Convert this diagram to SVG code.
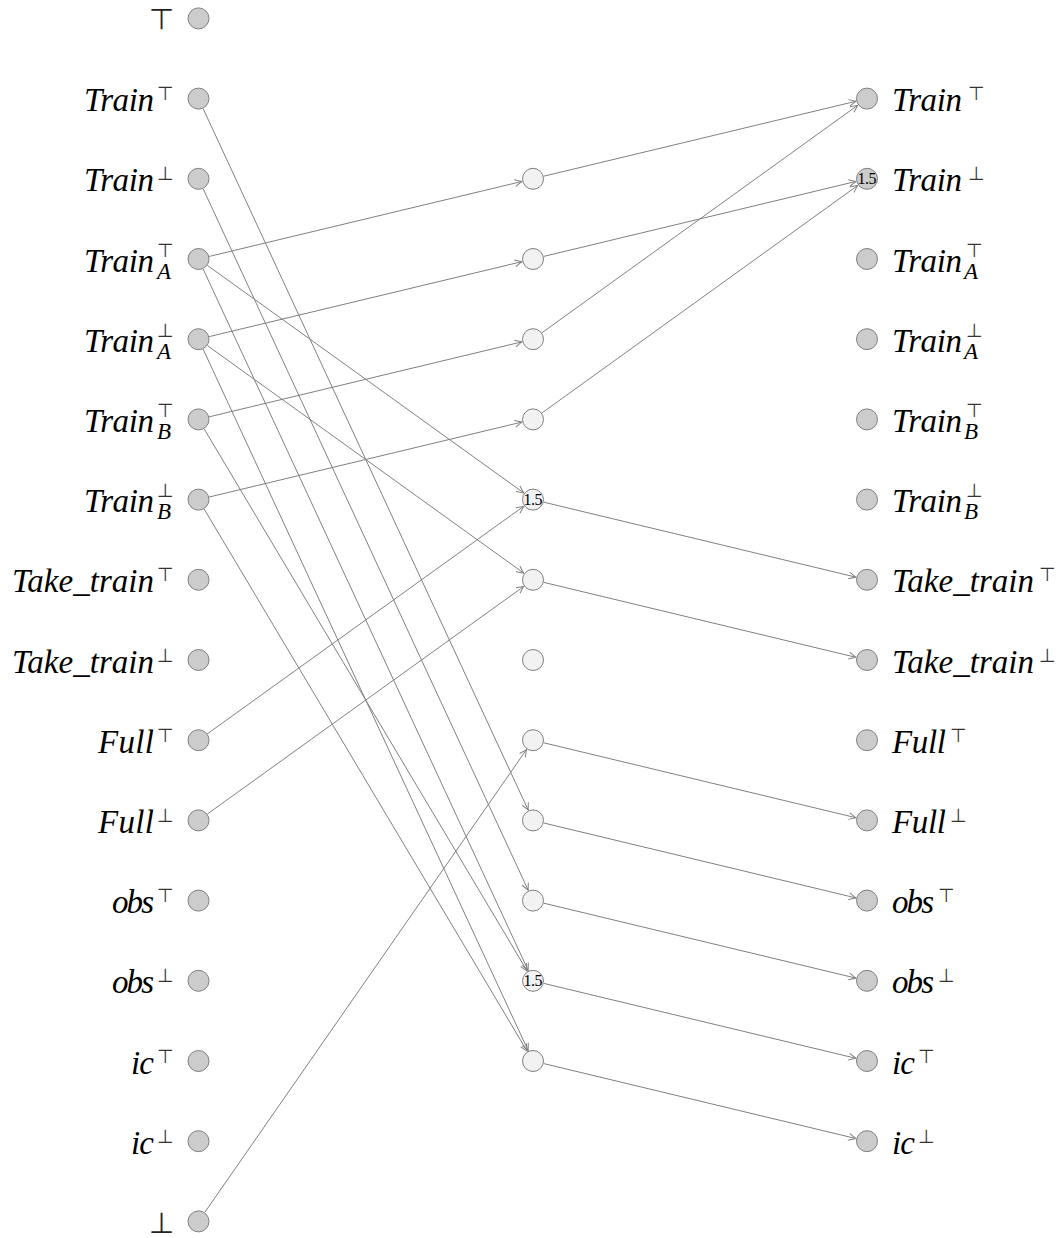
<svg xmlns="http://www.w3.org/2000/svg" width="1058" height="1238" viewBox="0 0 1058 1238">
<style>
.n{fill:#cccccc;stroke:#808080;stroke-width:1}
.m{fill:#f2f2f2;stroke:#808080;stroke-width:1}
.b{font-family:"Liberation Serif","DejaVu Serif",serif;font-style:italic;font-size:33px;fill:#000}
.bl{text-anchor:end}
.s{font-family:"DejaVu Sans",sans-serif;font-size:19px;fill:#333}
.u{font-family:"Liberation Serif","DejaVu Serif",serif;font-style:italic;font-size:23px;fill:#000}
.big{font-family:"DejaVu Sans",sans-serif;font-size:29px;fill:#222;text-anchor:end}
.t{font-family:"Liberation Serif","DejaVu Serif",serif;font-size:16px;fill:#000;text-anchor:middle}
#edges line{stroke:#808080;stroke-width:1;fill:none;marker-end:url(#arr)}
</style>
<defs>
<marker id="arr" markerUnits="userSpaceOnUse" markerWidth="12" markerHeight="12" viewBox="0 0 12 12" refX="10" refY="6" orient="auto">
<path d="M3,2.6 L10,6 L3,9.4" fill="none" stroke="#808080" stroke-width="1"/>
</marker>
</defs>
<rect width="1058" height="1238" fill="#ffffff"/>

<g id="left">
<g id="L0"><circle class="n" cx="198.5" cy="18.4" r="10.5"/><text class="big" x="174" y="29">⊤</text></g>
<g id="L1"><circle class="n" cx="198.5" cy="98.6" r="10.5"/><text class="b bl" x="154" y="111.1" textLength="70">Train</text><text class="s" x="157" y="100.1">⊤</text></g>
<g id="L2"><circle class="n" cx="198.5" cy="178.8" r="10.5"/><text class="b bl" x="154" y="191.3" textLength="70">Train</text><text class="s" x="157" y="180.3">⊥</text></g>
<g id="L3"><circle class="n" cx="198.5" cy="259.0" r="10.5"/><text class="b bl" x="154" y="271.5" textLength="70">Train</text><text class="s" x="157" y="256.5">⊤</text><text class="u" x="157" y="278.5">A</text></g>
<g id="L4"><circle class="n" cx="198.5" cy="339.2" r="10.5"/><text class="b bl" x="154" y="351.7" textLength="70">Train</text><text class="s" x="157" y="336.7">⊥</text><text class="u" x="157" y="358.7">A</text></g>
<g id="L5"><circle class="n" cx="198.5" cy="419.4" r="10.5"/><text class="b bl" x="154" y="431.9" textLength="70">Train</text><text class="s" x="157" y="416.9">⊤</text><text class="u" x="157" y="438.9">B</text></g>
<g id="L6"><circle class="n" cx="198.5" cy="499.6" r="10.5"/><text class="b bl" x="154" y="512.1" textLength="70">Train</text><text class="s" x="157" y="497.1">⊥</text><text class="u" x="157" y="519.1">B</text></g>
<g id="L7"><circle class="n" cx="198.5" cy="579.8" r="10.5"/><text class="b bl" x="154" y="592.3" textLength="142">Take_train</text><text class="s" x="157" y="581.3">⊤</text></g>
<g id="L8"><circle class="n" cx="198.5" cy="660.0" r="10.5"/><text class="b bl" x="154" y="672.5" textLength="142">Take_train</text><text class="s" x="157" y="661.5">⊥</text></g>
<g id="L9"><circle class="n" cx="198.5" cy="740.2" r="10.5"/><text class="b bl" x="154" y="752.7" textLength="56">Full</text><text class="s" x="157" y="741.7">⊤</text></g>
<g id="L10"><circle class="n" cx="198.5" cy="820.4" r="10.5"/><text class="b bl" x="154" y="832.9" textLength="56">Full</text><text class="s" x="157" y="821.9">⊥</text></g>
<g id="L11"><circle class="n" cx="198.5" cy="900.6" r="10.5"/><text class="b bl" x="154" y="913.1" textLength="42">obs</text><text class="s" x="157" y="902.1">⊤</text></g>
<g id="L12"><circle class="n" cx="198.5" cy="980.8" r="10.5"/><text class="b bl" x="154" y="993.3" textLength="42">obs</text><text class="s" x="157" y="982.3">⊥</text></g>
<g id="L13"><circle class="n" cx="198.5" cy="1061.0" r="10.5"/><text class="b bl" x="154" y="1073.5" textLength="23">ic</text><text class="s" x="157" y="1062.5">⊤</text></g>
<g id="L14"><circle class="n" cx="198.5" cy="1141.2" r="10.5"/><text class="b bl" x="154" y="1153.7" textLength="23">ic</text><text class="s" x="157" y="1142.7">⊥</text></g>
<g id="L15"><circle class="n" cx="198.5" cy="1221.4" r="10.5"/><text class="big" x="174" y="1233">⊥</text></g>
</g>

<g id="middle">
<g id="M0"><circle class="m" cx="533" cy="178.8" r="10.5"/></g>
<g id="M1"><circle class="m" cx="533" cy="259.0" r="10.5"/></g>
<g id="M2"><circle class="m" cx="533" cy="339.2" r="10.5"/></g>
<g id="M3"><circle class="m" cx="533" cy="419.4" r="10.5"/></g>
<g id="M4"><circle class="m" cx="533" cy="499.6" r="10.5"/><text class="t" x="533" y="505.2" textLength="19">1.5</text></g>
<g id="M5"><circle class="m" cx="533" cy="579.8" r="10.5"/></g>
<g id="M6"><circle class="m" cx="533" cy="660.0" r="10.5"/></g>
<g id="M7"><circle class="m" cx="533" cy="740.2" r="10.5"/></g>
<g id="M8"><circle class="m" cx="533" cy="820.4" r="10.5"/></g>
<g id="M9"><circle class="m" cx="533" cy="900.6" r="10.5"/></g>
<g id="M10"><circle class="m" cx="533" cy="980.8" r="10.5"/><text class="t" x="533" y="986.4" textLength="19">1.5</text></g>
<g id="M11"><circle class="m" cx="533" cy="1061.0" r="10.5"/></g>
</g>

<g id="right">
<g id="R0"><circle class="n" cx="867" cy="98.6" r="10.5"/><text class="b" x="892" y="111.1" textLength="70">Train</text><text class="s" x="968" y="100.1">⊤</text></g>
<g id="R1"><circle class="n" cx="867" cy="178.8" r="10.5"/><text class="t" x="867" y="184.4" textLength="19">1.5</text><text class="b" x="892" y="191.3" textLength="70">Train</text><text class="s" x="968" y="180.3">⊥</text></g>
<g id="R2"><circle class="n" cx="867" cy="259.0" r="10.5"/><text class="b" x="892" y="271.5" textLength="70">Train</text><text class="s" x="966" y="256.5">⊤</text><text class="u" x="964" y="278.5">A</text></g>
<g id="R3"><circle class="n" cx="867" cy="339.2" r="10.5"/><text class="b" x="892" y="351.7" textLength="70">Train</text><text class="s" x="966" y="336.7">⊥</text><text class="u" x="964" y="358.7">A</text></g>
<g id="R4"><circle class="n" cx="867" cy="419.4" r="10.5"/><text class="b" x="892" y="431.9" textLength="70">Train</text><text class="s" x="966" y="416.9">⊤</text><text class="u" x="964" y="438.9">B</text></g>
<g id="R5"><circle class="n" cx="867" cy="499.6" r="10.5"/><text class="b" x="892" y="512.1" textLength="70">Train</text><text class="s" x="966" y="497.1">⊥</text><text class="u" x="964" y="519.1">B</text></g>
<g id="R6"><circle class="n" cx="867" cy="579.8" r="10.5"/><text class="b" x="892" y="592.3" textLength="142">Take_train</text><text class="s" x="1039" y="581.3">⊤</text></g>
<g id="R7"><circle class="n" cx="867" cy="660.0" r="10.5"/><text class="b" x="892" y="672.5" textLength="142">Take_train</text><text class="s" x="1039" y="661.5">⊥</text></g>
<g id="R8"><circle class="n" cx="867" cy="740.2" r="10.5"/><text class="b" x="892" y="752.7" textLength="54">Full</text><text class="s" x="950" y="741.7">⊤</text></g>
<g id="R9"><circle class="n" cx="867" cy="820.4" r="10.5"/><text class="b" x="892" y="832.9" textLength="54">Full</text><text class="s" x="950" y="821.9">⊥</text></g>
<g id="R10"><circle class="n" cx="867" cy="900.6" r="10.5"/><text class="b" x="892" y="913.1" textLength="42">obs</text><text class="s" x="938" y="902.1">⊤</text></g>
<g id="R11"><circle class="n" cx="867" cy="980.8" r="10.5"/><text class="b" x="892" y="993.3" textLength="42">obs</text><text class="s" x="938" y="982.3">⊥</text></g>
<g id="R12"><circle class="n" cx="867" cy="1061.0" r="10.5"/><text class="b" x="892" y="1073.5" textLength="23">ic</text><text class="s" x="918" y="1062.5">⊤</text></g>
<g id="R13"><circle class="n" cx="867" cy="1141.2" r="10.5"/><text class="b" x="892" y="1153.7" textLength="23">ic</text><text class="s" x="918" y="1142.7">⊥</text></g>
</g>

<g id="edges">
<line x1="209.2" y1="256.43" x2="521.82" y2="181.48"/>
<line x1="209.2" y1="336.63" x2="521.82" y2="261.68"/>
<line x1="209.2" y1="416.83" x2="521.82" y2="341.88"/>
<line x1="209.2" y1="497.03" x2="521.82" y2="422.08"/>
<line x1="207.43" y1="265.42" x2="523.66" y2="492.89"/>
<line x1="207.43" y1="345.62" x2="523.66" y2="573.09"/>
<line x1="207.43" y1="733.78" x2="523.66" y2="506.31"/>
<line x1="207.43" y1="813.98" x2="523.66" y2="586.51"/>
<line x1="204.78" y1="1212.37" x2="526.44" y2="749.64"/>
<line x1="203.13" y1="108.58" x2="528.16" y2="809.97"/>
<line x1="203.13" y1="188.78" x2="528.16" y2="890.17"/>
<line x1="203.13" y1="268.98" x2="528.16" y2="970.37"/>
<line x1="204.13" y1="428.85" x2="527.11" y2="970.92"/>
<line x1="203.13" y1="349.18" x2="528.16" y2="1050.57"/>
<line x1="204.13" y1="509.05" x2="527.11" y2="1051.12"/>
<line x1="543.70" y1="176.23" x2="855.82" y2="101.29"/>
<line x1="543.70" y1="256.43" x2="855.82" y2="181.49"/>
<line x1="541.93" y1="332.77" x2="857.67" y2="105.32"/>
<line x1="541.93" y1="412.97" x2="857.67" y2="185.52"/>
<line x1="543.70" y1="502.17" x2="855.82" y2="577.11"/>
<line x1="543.70" y1="582.37" x2="855.82" y2="657.31"/>
<line x1="543.70" y1="742.77" x2="855.82" y2="817.71"/>
<line x1="543.70" y1="822.97" x2="855.82" y2="897.91"/>
<line x1="543.70" y1="903.17" x2="855.82" y2="978.11"/>
<line x1="543.70" y1="983.37" x2="855.82" y2="1058.31"/>
<line x1="543.70" y1="1063.57" x2="855.82" y2="1138.51"/>
</g>
</svg>
